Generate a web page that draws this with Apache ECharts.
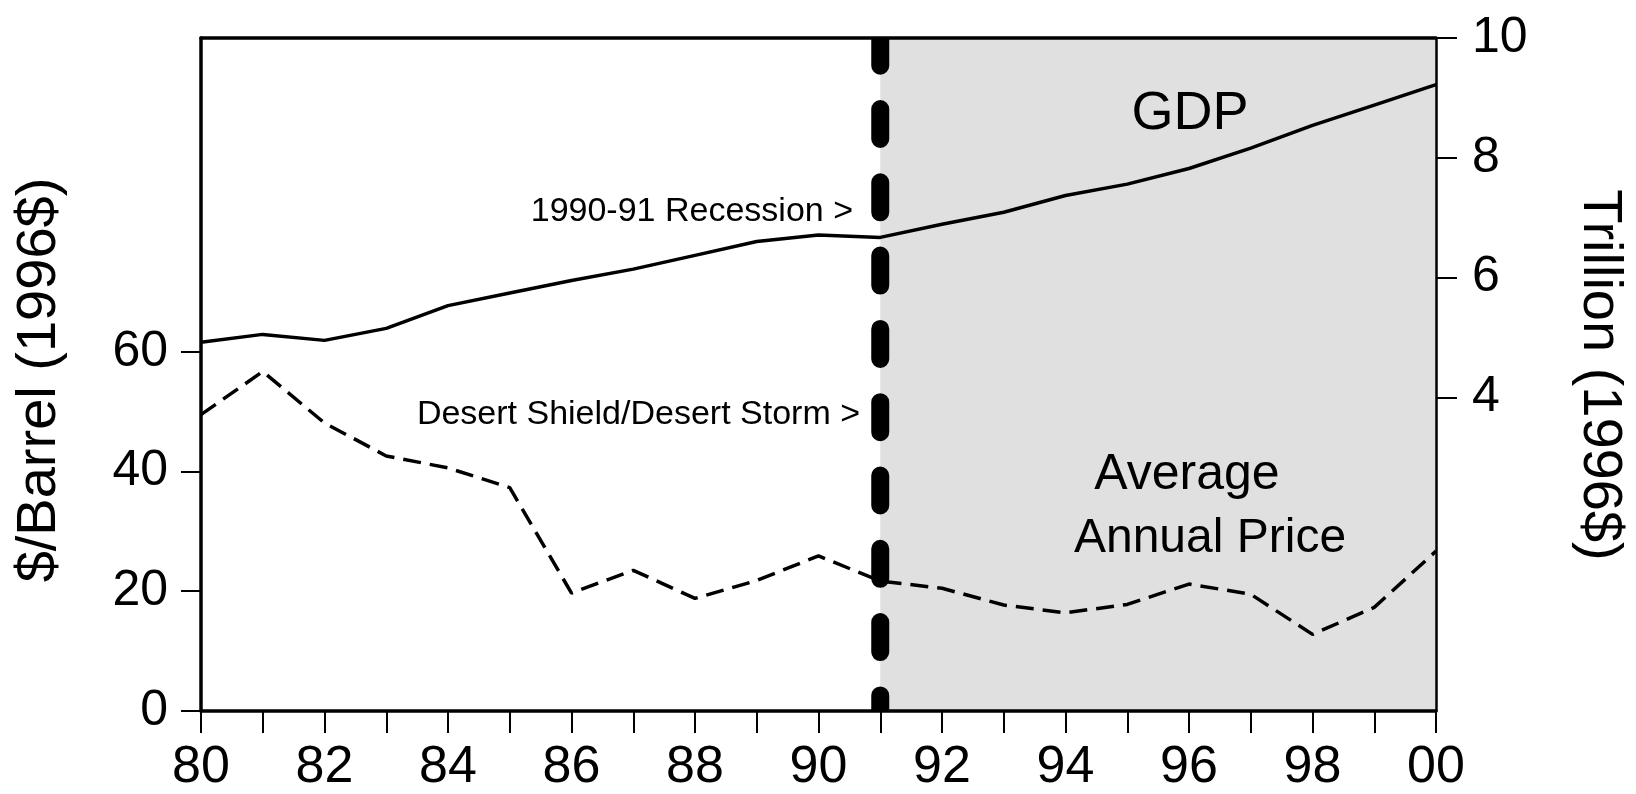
<!DOCTYPE html>
<html>
<head>
<meta charset="utf-8">
<style>
  html, body { margin: 0; padding: 0; background: #fff; }
  #chart { width: 1636px; height: 794px; }
</style>
<script src="https://cdn.jsdelivr.net/npm/echarts@6.0.0/dist/echarts.min.js"></script>
</head>
<body>
<div id="chart"></div>
<script>
const years = [1980, 1981, 1982, 1983, 1984, 1985, 1986, 1987, 1988, 1989, 1990,
  1991, 1992, 1993, 1994, 1995, 1996, 1997, 1998, 1999, 2000];
// real GDP, trillion 1996$ (right axis)
const gdp = [4.92, 5.05, 4.95, 5.15, 5.53, 5.74, 5.95, 6.14, 6.37, 6.60, 6.71,
  6.67, 6.89, 7.09, 7.37, 7.56, 7.82, 8.16, 8.54, 8.88, 9.22];
// average annual oil price, $/barrel 1996$ (left axis)
const oilPrice = [49.5, 56.7, 48.1, 42.6, 40.6, 37.3, 19.7, 23.5, 18.8, 21.8, 25.9,
  21.7, 20.5, 17.7, 16.4, 17.8, 21.2, 19.5, 12.8, 17.3, 26.7];
const priceTicks = [0, 20, 40, 60];
const gdpTicks = [4, 6, 8, 10];
const recessionYear = 1991;
const shadeEnd = 2000;
const priceMax = 112.4;
const gdpMin = -1.24;
const gdpMax = 10;

const FONT = "'Liberation Sans', Arial, Helvetica, sans-serif";

const toPairs = vals => years.map((y, i) => [y, vals[i]]);

function textItem(text, x, y, size, align, rotation) {
  return {
    type: "text",
    x: x,
    y: y,
    z: 10,
    rotation: rotation || 0,
    style: {
      text: text,
      font: size + "px " + FONT,
      fill: "#000",
      textAlign: align,
      textVerticalAlign: "middle"
    }
  };
}

const myChart = echarts.init(document.getElementById("chart"));
myChart.setOption({
  animation: false,
  backgroundColor: "#fff",
  grid: {
    left: 201,
    right: 200,
    top: 38,
    bottom: 82,
    containLabel: false
  },
  xAxis: [
    {
      type: "value",
      min: years[0],
      max: years[years.length - 1],
      interval: 1,
      z: 3,
      axisLine: { lineStyle: { color: "#000", width: 3.5 } },
      axisTick: { inside: false, length: 22, lineStyle: { color: "#000", width: 2 } },
      axisLabel: {
        margin: 31,
        color: "#000",
        fontFamily: FONT,
        fontSize: 52,
        formatter: v => (v % 2 === 0 ? String(v).slice(2) : "")
      },
      splitLine: { show: false }
    },
    {
      // top frame line
      type: "value",
      position: "top",
      min: years[0],
      max: years[years.length - 1],
      z: 3,
      axisLine: { onZero: false, lineStyle: { color: "#000", width: 3.5 } },
      axisTick: { show: false },
      axisLabel: { show: false },
      splitLine: { show: false }
    }
  ],
  yAxis: [
    {
      type: "value",
      position: "left",
      min: 0,
      max: priceMax,
      z: 3,
      axisLine: { show: true, lineStyle: { color: "#000", width: 3.5 } },
      axisTick: {
        show: true,
        length: 20,
        customValues: priceTicks,
        lineStyle: { color: "#000", width: 2 }
      },
      axisLabel: {
        customValues: priceTicks,
        margin: 33,
        padding: [0, 0, 15, 0],
        color: "#000",
        fontFamily: FONT,
        fontSize: 50
      },
      splitLine: { show: false }
    },
    {
      type: "value",
      position: "right",
      min: gdpMin,
      max: gdpMax,
      z: 3,
      axisLine: { show: true, lineStyle: { color: "#000", width: 2.5 } },
      axisTick: {
        show: true,
        length: 21,
        customValues: gdpTicks,
        lineStyle: { color: "#000", width: 2 }
      },
      axisLabel: {
        customValues: gdpTicks,
        margin: 36,
        padding: [0, 0, 15, 0],
        color: "#000",
        fontFamily: FONT,
        fontSize: 50
      },
      splitLine: { show: false }
    }
  ],
  series: [
    {
      // shaded post-recession period
      type: "line",
      yAxisIndex: 1,
      data: toPairs(gdp),
      showSymbol: false,
      silent: true,
      z: 1,
      lineStyle: { opacity: 0 },
      markArea: {
        silent: true,
        itemStyle: { color: "#e0e0e0" },
        data: [[{ xAxis: recessionYear }, { xAxis: shadeEnd }]]
      }
    },
    {
      name: "GDP",
      type: "line",
      yAxisIndex: 1,
      data: toPairs(gdp),
      showSymbol: false,
      z: 4,
      lineStyle: { color: "#000", width: 3.5 }
    },
    {
      name: "Average Annual Price",
      type: "line",
      yAxisIndex: 0,
      data: toPairs(oilPrice),
      showSymbol: false,
      z: 4,
      lineStyle: { color: "#000", width: 3.5, type: [18, 9] }
    },
    {
      // 1990-91 recession marker, clipped flat at the frame
      type: "custom",
      yAxisIndex: 0,
      z: 5,
      silent: true,
      data: [[recessionYear]],
      renderItem: (params, api) => {
        const top = api.coord([api.value(0), priceMax]);
        const bottom = api.coord([api.value(0), 0]);
        const cs = params.coordSys;
        return {
          type: "group",
          clipPath: {
            type: "rect",
            shape: { x: cs.x, y: cs.y, width: cs.width, height: cs.height }
          },
          children: [
            {
              type: "line",
              shape: { x1: top[0], y1: top[1], x2: bottom[0], y2: bottom[1] },
              style: {
                stroke: "#000",
                lineWidth: 18,
                lineDash: [30, 43.3],
                lineDashOffset: 2.3,
                lineCap: "round"
              }
            }
          ]
        };
      }
    }
  ],
  graphic: [
    textItem("$/Barrel (1996$)", 40, 380, 56, "center", Math.PI / 2),
    textItem("Trillion (1996$)", 1599, 375, 56, "center", -Math.PI / 2),
    textItem("1990-91 Recession >", 853, 212, 34, "right"),
    textItem("Desert Shield/Desert Storm >", 860, 415, 34, "right"),
    textItem("GDP", 1190, 114, 54, "center"),
    textItem("Average", 1187, 475, 50, "center"),
    textItem("Annual Price", 1210, 539, 48, "center")
  ]
});
</script>
</body>
</html>
